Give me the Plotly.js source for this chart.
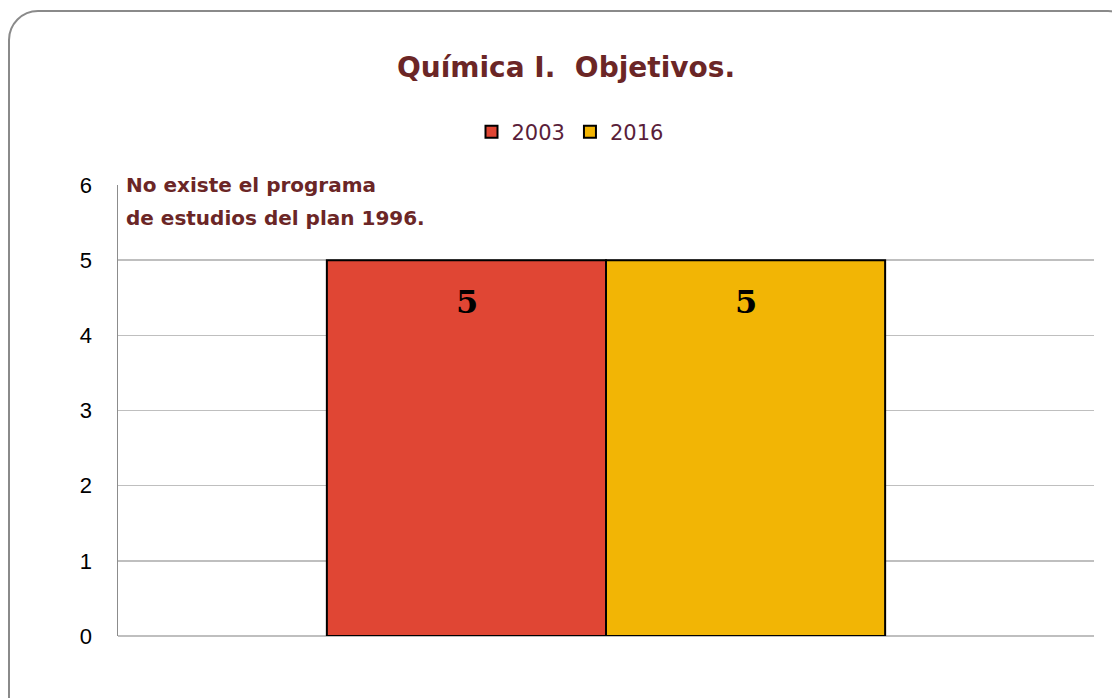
<!DOCTYPE html>
<html>
<head>
<meta charset="utf-8">
<script src="https://cdn.plot.ly/plotly-3.0.1.min.js"></script>
<style>
html,body{margin:0;padding:0;background:#fff;overflow:hidden;}
#frame{position:absolute;left:8px;top:10px;width:1130px;height:720px;border:2px solid #8a8a8a;border-radius:30px;box-sizing:border-box;}
#chart{position:absolute;left:0;top:0;width:1112px;height:698px;}
</style>
</head>
<body>
<div id="frame"></div>
<div id="chart"></div>
<script>
const categories = ["Objetivos"];
const seriesNames = ["2003", "2016"];
const values2003 = [5];
const values2016 = [5];
const colors = ["#E04634", "#F2B505"];
const titleText = "Química I.  Objetivos.";
const noteLines = ["No existe el programa", "de estudios del plan 1996."];
const tickVals = [0, 1, 2, 3, 4, 5, 6];

const seriesValues = [values2003, values2016];
const traces = seriesNames.map((name, i) => ({
  type: "bar",
  name: name,
  x: categories,
  y: seriesValues[i],
  marker: {color: colors[i], line: {color: "#000", width: 2}},
  hoverinfo: "skip"
}));

const barHalf = 139.5;
const labelAnnotations = [];
seriesValues.forEach((vals, i) => {
  vals.forEach((v, j) => {
    labelAnnotations.push({
      text: "<b>" + String(v) + "</b>",
      xref: "x", yref: "y",
      x: categories[j], y: v,
      xanchor: "center", yanchor: "middle",
      xshift: (i === 0 ? -1 : 1) * barHalf, yshift: -42,
      showarrow: false,
      font: {family: "DejaVu Serif", size: 32, color: "#000"}
    });
  });
});

const noteAnnotations = noteLines.map((t, k) => ({
  text: "<b>" + t + "</b>",
  xref: "paper", yref: "y",
  x: 0, y: 6,
  xanchor: "left", yanchor: "middle",
  xshift: 6, yshift: -33 * k,
  align: "left",
  showarrow: false,
  font: {family: "DejaVu Sans", size: 20, color: "#6B2626"}
}));

const layout = {
  width: 1112,
  height: 698,
  paper_bgcolor: "rgba(0,0,0,0)",
  plot_bgcolor: "rgba(0,0,0,0)",
  margin: {l: 118, r: 18, t: 185, b: 62},
  barmode: "group",
  bargap: 0.428,
  bargroupgap: 0,
  showlegend: true,
  title: {
    text: "<b>" + titleText + "</b>",
    font: {family: "DejaVu Sans", size: 28, color: "#6B2626"},
    x: 0.509, xref: "container", xanchor: "center",
    y: 1 - 67/698, yref: "container", yanchor: "middle"
  },
  legend: {
    orientation: "h",
    x: 570/1112, xref: "container", xanchor: "center",
    y: 1 - 132/698, yref: "container", yanchor: "middle",
    font: {family: "DejaVu Sans", size: 21, color: "#5A1E3A"},
    itemwidth: 30,
    traceorder: "normal"
  },
  xaxis: {
    showticklabels: false,
    showgrid: false,
    zeroline: false,
    showline: false,
    fixedrange: true
  },
  yaxis: {
    range: [0, 6],
    tickvals: tickVals,
    ticktext: tickVals.map(String),
    tickfont: {family: "Liberation Sans", size: 22, color: "#000"},
    ticks: "",
    ticklabelstandoff: 20,
    showgrid: true,
    gridcolor: "#BFBFBF",
    gridwidth: 1.5,
    zeroline: true,
    zerolinecolor: "#BFBFBF",
    zerolinewidth: 2,
    showline: true,
    linecolor: "#8C8C8C",
    linewidth: 1.5,
    fixedrange: true
  },
  annotations: noteAnnotations.concat(labelAnnotations)
};

Plotly.newPlot("chart", traces, layout, {displayModeBar: false, staticPlot: true});
</script>
</body>
</html>
